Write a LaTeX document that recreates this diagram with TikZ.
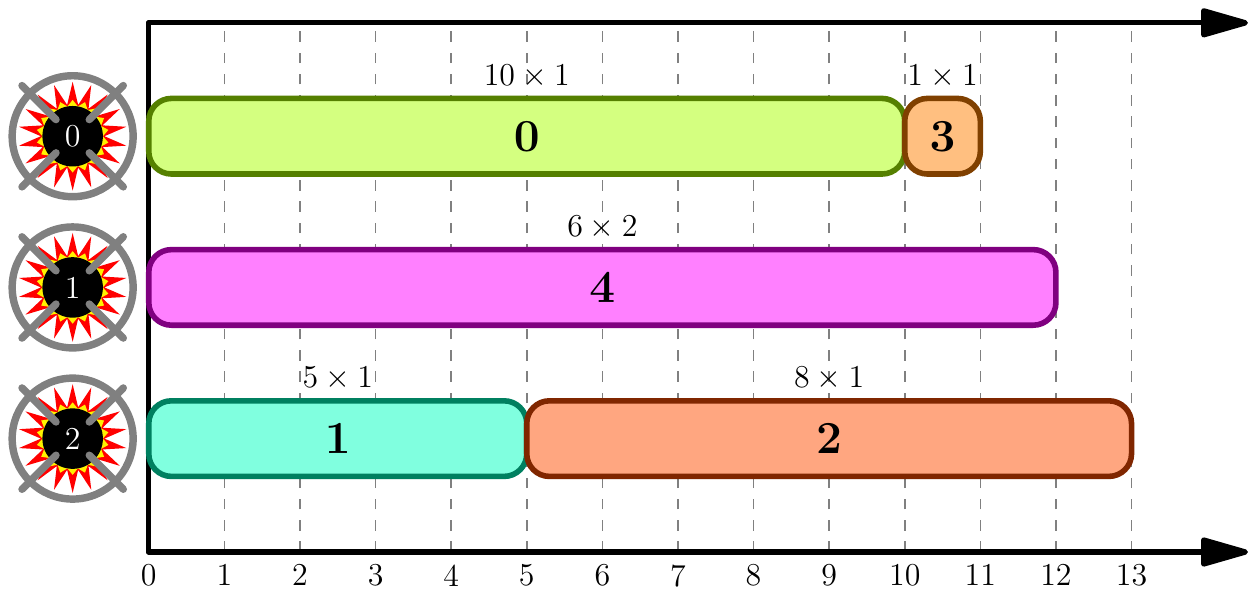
\documentclass[tikz,border=0pt]{standalone}
\usetikzlibrary{arrows.meta,shapes.geometric}
\definecolor{limefill}{RGB}{212,255,128}
\definecolor{limedraw}{RGB}{85,128,0}
\definecolor{orfill}{RGB}{255,191,128}
\definecolor{ordraw}{RGB}{128,64,0}
\definecolor{magfill}{RGB}{255,128,255}
\definecolor{magdraw}{RGB}{128,0,128}
\definecolor{aqfill}{RGB}{128,255,223}
\definecolor{aqdraw}{RGB}{0,128,96}
\definecolor{redfill}{RGB}{255,166,128}
\definecolor{reddraw}{RGB}{128,38,0}
\tikzset{
 axisline/.style={line width=2pt,-{Triangle[length=0.72cm,width=0.39cm,round]},line cap=round},
 gridline/.style={gray,dash pattern=on 4pt off 4pt,line width=0.6pt},
 taskbox/.style={rounded corners=0.3cm,line width=2.1pt,minimum height=1cm,inner sep=0pt,outer sep=0pt,anchor=west,draw,font=\LARGE},
 ticklabel/.style={anchor=north,inner sep=0pt,font=\large},
 sizelabel/.style={anchor=south,inner sep=0pt,font=\large},
 strike/.style={gray,line width=2.8pt,line cap=round},
 bombbody/.style={circle,fill=black,minimum size=0.8cm,inner sep=0pt,text=white,font=\large},
}
\newcommand{\bombat}[3]{%
 \fill[red] plot[samples at={0,10,...,350},variable=\a] ({-1.007+(mod(\a,20)==10 ? 0.72 : 0.42)*cos(\a)},{#1+(mod(\a,20)==10 ? 0.72 : 0.42)*sin(\a)}) -- cycle;
 \fill[yellow] plot[samples at={0,10,...,350},variable=\a] ({-1.007+(mod(\a,20)==10 ? 0.48 : 0.4)*cos(\a)},{#1+(mod(\a,20)==10 ? 0.48 : 0.4)*sin(\a)}) -- cycle;
 \node[bombbody] (#2) at (-1.007,#1) {#3};
 \draw[gray,line width=2.8pt] (#2.center) circle (0.8cm);
 \draw[strike] ([shift={(0.22,0.22)}]#2.center) -- ++(0.45,0.45);
 \draw[strike] ([shift={(-0.22,0.22)}]#2.center) -- ++(-0.45,0.45);
 \draw[strike] ([shift={(0.22,-0.22)}]#2.center) -- ++(0.45,-0.45);
 \draw[strike] ([shift={(-0.22,-0.22)}]#2.center) -- ++(-0.45,-0.45);
}
\begin{document}
\begin{tikzpicture}
\useasboundingbox (-1.968,-0.542) rectangle (14.567,7.302);
\foreach \x in {1,...,13} \draw[gridline] (\x,0) -- (\x,7);
\coordinate (o) at (0,0);
\coordinate (t) at (0,7);
\coordinate (xe) at (14.54,0);
\coordinate (te) at (14.54,7);
\draw[axisline] (o) -- (xe);
\draw[axisline] (t) -- (te);
\draw[line width=2pt,line cap=round] (o) -- (t);
\foreach \x in {0,...,13} \node[ticklabel] (tick\x) at (\x,-0.16) {\x};
\node[taskbox,fill=limefill,draw=limedraw,minimum width=10cm] (j0) at (0,5.5) {$\mathbf{0}$};
\node[taskbox,fill=orfill,draw=ordraw,minimum width=1cm] (j3) at (10,5.5) {$\mathbf{3}$};
\node[taskbox,fill=magfill,draw=magdraw,minimum width=12cm] (j4) at (0,3.5) {$\mathbf{4}$};
\node[taskbox,fill=aqfill,draw=aqdraw,minimum width=5cm] (j1) at (0,1.5) {$\mathbf{1}$};
\node[taskbox,fill=redfill,draw=reddraw,minimum width=8cm] (j2) at (5,1.5) {$\mathbf{2}$};
\node[sizelabel] (s0) at (5,6.13) {$10\times 1$};
\node[sizelabel] (s3) at (10.5,6.13) {$1\times 1$};
\node[sizelabel] (s4) at (6,4.13) {$6\times 2$};
\node[sizelabel] (s1) at (2.5,2.13) {$5\times 1$};
\node[sizelabel] (s2) at (9,2.13) {$8\times 1$};
\bombat{5.5}{b0}{0}
\bombat{3.5}{b1}{1}
\bombat{1.5}{b2}{2}
\end{tikzpicture}
\end{document}
